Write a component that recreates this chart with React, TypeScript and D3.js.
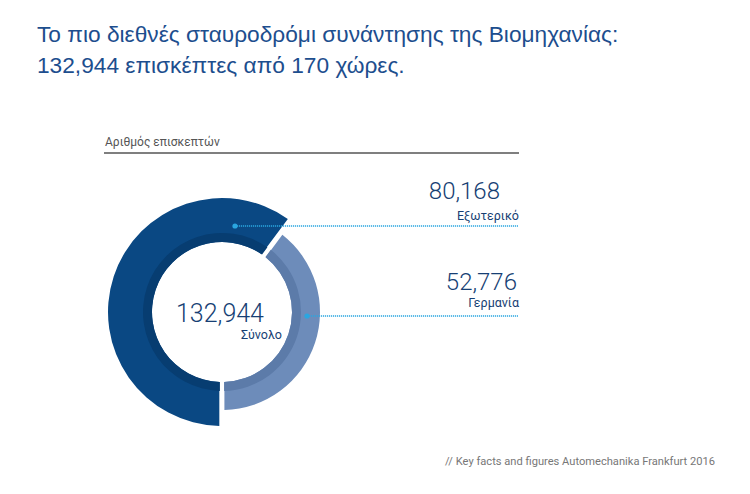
import React from "react";
import * as d3 from "d3";

const title1 = "Το πιο διεθνές σταυροδρόμι συνάντησης της Βιομηχανίας:";
const title2 = "132,944 επισκέπτες από 170 χώρες.";
const subtitle = "Αριθμός επισκεπτών";
const categories = ["Εξωτερικό", "Γερμανία"];
const values = [80168, 52776];
const totalValue = 132944;
const totalLabel = "Σύνολο";
const source = "// Key facts and figures Automechanika Frankfurt 2016";

const fmt = d3.format(",");

const W = 750, H = 494;
const cx = 222, cy = 312;
const rInner = 70;
const rOuter = [114, 98];
const colors = ["#0a4883", "#6d8cba"];
const bandColors = ["#073d71", "#5c7ba9"];
const calloutY = [226, 316];
const dotX = [235, 307];
const lineEnd = 518;
const numY = [199, 290];
const numRight = [500, 517];
const labY = [220, 307];

export default function App() {
  const pie = d3.pie<number>().sort(null).startAngle(Math.PI).endAngle(3 * Math.PI).padAngle(0.04);
  const arcs = pie(values);
  return (
    <svg width={W} height={H} style={{ position: "absolute", left: 0, top: 0, background: "#fff" }}>
      <text x={37} y={42} fontFamily="Liberation Sans, Arial, sans-serif" fontSize={22.7} fill="#1d4e8e">{title1}</text>
      <text x={37} y={73} fontFamily="Liberation Sans, Arial, sans-serif" fontSize={22.7} fill="#1d4e8e">{title2}</text>
      <text x={105} y={146} fontFamily="Roboto, sans-serif" fontSize={12} fill="#555">{subtitle}</text>
      <line x1={104} x2={519} y1={153} y2={153} stroke="#555" strokeWidth={1.3} />
      <g transform={`translate(${cx},${cy})`}>
        {arcs.map((a, i) => {
          const outer = d3.arc<any>().innerRadius(rInner).outerRadius(rOuter[i]);
          const band = d3.arc<any>().innerRadius(rInner).outerRadius(rInner + 9);
          return (
            <g key={i}>
              <path d={outer(a) || ""} fill={colors[i]} />
              <path d={band(a) || ""} fill={bandColors[i]} />
            </g>
          );
        })}
      </g>
      {categories.map((c, i) => (
        <g key={c}>
          <line x1={dotX[i]} x2={lineEnd} y1={calloutY[i]} y2={calloutY[i]} stroke="#2aa6e0" strokeWidth={1.6} strokeDasharray="1.2,0.8" />
          <circle cx={dotX[i]} cy={calloutY[i]} r={2.6} fill="#2aa6e0" />
          <text x={numRight[i]} y={numY[i]} textAnchor="end" fontFamily="Roboto, sans-serif" fontWeight={300} fontSize={24} fill="#173f74">{fmt(values[i])}</text>
          <text x={519} y={labY[i]} textAnchor="end" fontFamily="Roboto, sans-serif" fontSize={12.5} fill="#173f74">{c}</text>
        </g>
      ))}
      <text x={264} y={322} textAnchor="end" fontFamily="Roboto, sans-serif" fontWeight={300} fontSize={25} fill="#173f74">{fmt(totalValue)}</text>
      <text x={282} y={339} textAnchor="end" fontFamily="Roboto, sans-serif" fontSize={12.5} fill="#173f74">{totalLabel}</text>
      <text x={445} y={465} fontFamily="Roboto, sans-serif" fontSize={11.5} fill="#777" textLength={270} lengthAdjust="spacingAndGlyphs">{source}</text>
    </svg>
  );
}
